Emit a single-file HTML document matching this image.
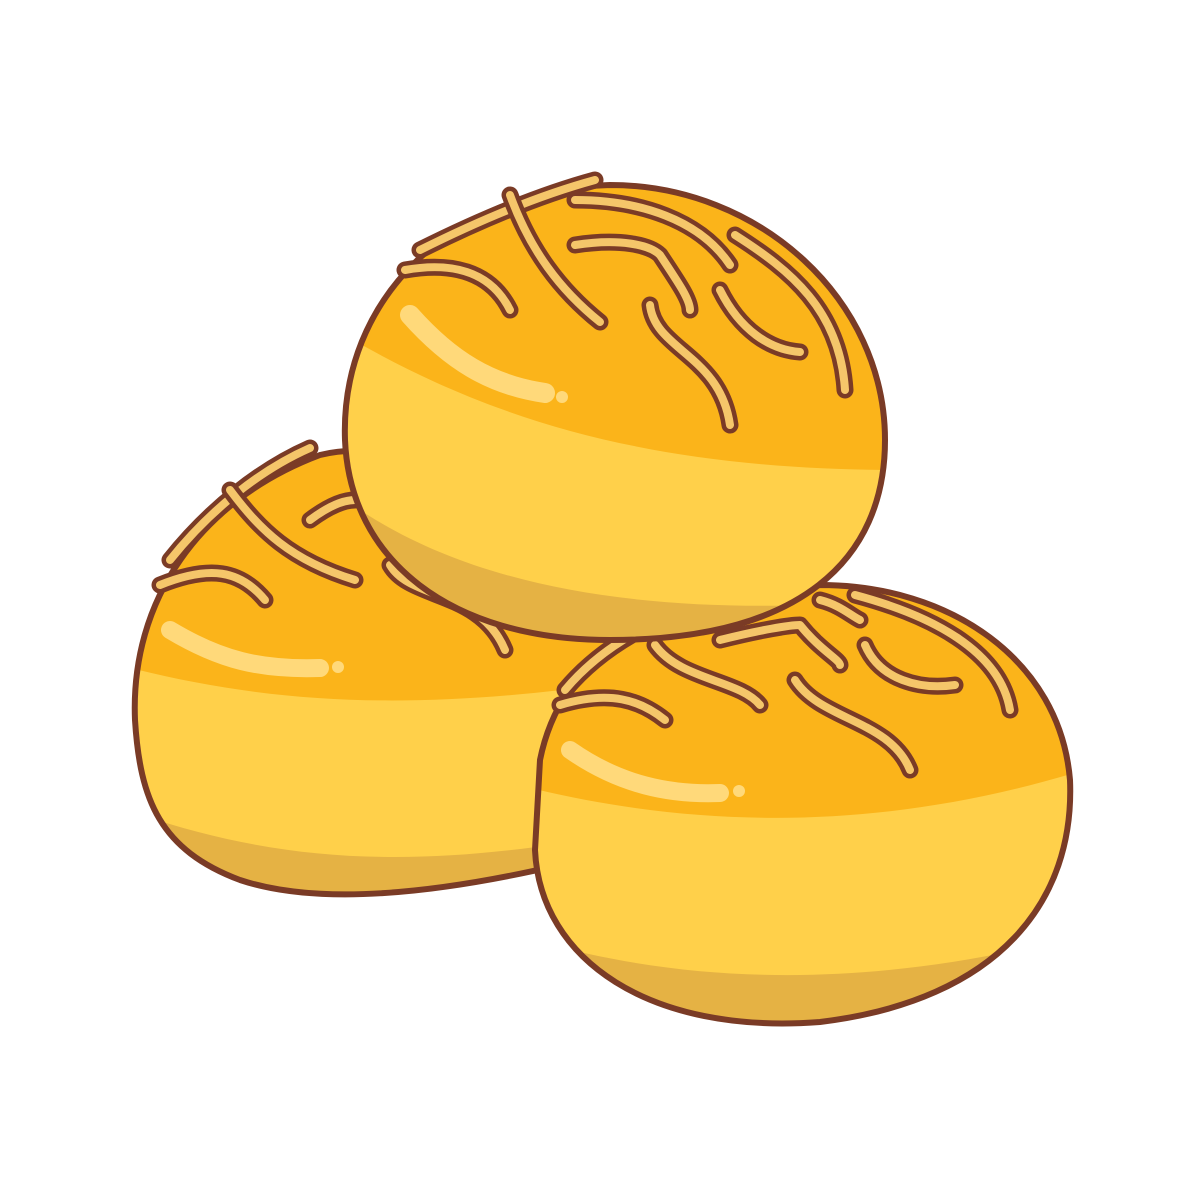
<!DOCTYPE html>
<html><head><meta charset="utf-8"><style>html,body{margin:0;padding:0;background:#fff}svg{display:block}</style></head>
<body>
<svg width="1200" height="1200" viewBox="0 0 1200 1200" xmlns="http://www.w3.org/2000/svg">
<defs>
<clipPath id="cl"><path d="M135,720 C130,600 200,500 320,455 C420,430 560,520 620,620 L620,850 C470,890 330,910 240,880 C160,850 140,800 135,720 Z"/></clipPath>
<clipPath id="cr"><path d="M540,760 C560,660 650,590 820,585 C950,585 1060,660 1070,780 C1075,900 1000,1000 820,1022 C650,1035 540,960 535,850 Z"/></clipPath>
<clipPath id="ct"><path d="M345,440 C340,300 450,190 610,185 C760,185 885,300 885,440 C885,560 800,640 610,640 C450,640 350,560 345,440 Z"/></clipPath>
<style>.o{fill:none;stroke:#7a3b26;stroke-width:17;stroke-linecap:round;stroke-linejoin:round}.i{fill:none;stroke:#f5c66a;stroke-width:8;stroke-linecap:round;stroke-linejoin:round}</style>
</defs>

<g>
<g clip-path="url(#cl)">
<rect x="100" y="400" width="540" height="550" fill="#fbb41a"/>
<path d="M100,660 C280,710 430,710 640,680 L640,950 L100,950 Z" fill="#ffd04a"/>
<path d="M100,800 C280,870 430,870 640,830 L640,950 L100,950 Z" fill="#e5b244"/>
</g>
<path d="M135,720 C130,600 200,500 320,455 C420,430 560,520 620,620 L620,850 C470,890 330,910 240,880 C160,850 140,800 135,720 Z" fill="none" stroke="#7a3b26" stroke-width="6"/>
<path d="M170,630 C220,660 260,670 320,668" fill="none" stroke="#ffd97a" stroke-width="18" stroke-linecap="round"/>
<circle cx="338" cy="667" r="6" fill="#ffd97a"/>
<g>
<path class="o" d="M170,560 C210,510 260,470 310,448"/><path class="i" d="M170,560 C210,510 260,470 310,448"/>
<path class="o" d="M160,585 C210,565 240,570 265,600"/><path class="i" d="M160,585 C210,565 240,570 265,600"/>
<path class="o" d="M230,490 C260,530 290,560 355,580"/><path class="i" d="M230,490 C260,530 290,560 355,580"/>
<path class="o" d="M310,520 C330,505 345,500 355,500"/><path class="i" d="M310,520 C330,505 345,500 355,500"/>
<path class="o" d="M390,565 C410,600 480,590 505,650"/><path class="i" d="M390,565 C410,600 480,590 505,650"/>
</g>
</g>

<g>
<g clip-path="url(#cr)">
<rect x="500" y="550" width="600" height="500" fill="#fbb41a"/>
<path d="M500,780 C700,835 900,830 1100,765 L1100,1050 L500,1050 Z" fill="#ffd04a"/>
<path d="M500,930 C700,995 900,985 1100,930 L1100,1050 L500,1050 Z" fill="#e5b244"/>
</g>
<path d="M540,760 C560,660 650,590 820,585 C950,585 1060,660 1070,780 C1075,900 1000,1000 820,1022 C650,1035 540,960 535,850 Z" fill="none" stroke="#7a3b26" stroke-width="6"/>
<path d="M570,750 C620,785 670,795 720,793" fill="none" stroke="#ffd97a" stroke-width="18" stroke-linecap="round"/>
<circle cx="739" cy="791" r="6" fill="#ffd97a"/>
<g>
<path class="o" d="M565,690 C590,660 620,640 650,625"/><path class="i" d="M565,690 C590,660 620,640 650,625"/>
<path class="o" d="M560,705 C610,690 640,700 665,720"/><path class="i" d="M560,705 C610,690 640,700 665,720"/>
<path class="o" d="M655,645 C680,680 740,680 760,705"/><path class="i" d="M655,645 C680,680 740,680 760,705"/>
<path class="o" d="M795,680 C820,720 890,720 910,770"/><path class="i" d="M795,680 C820,720 890,720 910,770"/>
<path class="o" d="M720,640 C760,630 790,625 800,625 C820,650 840,660 840,665"/><path class="i" d="M720,640 C760,630 790,625 800,625 C820,650 840,660 840,665"/>
<path class="o" d="M865,645 C880,680 920,690 955,685"/><path class="i" d="M865,645 C880,680 920,690 955,685"/>
<path class="o" d="M855,595 C930,615 1000,650 1010,710"/><path class="i" d="M855,595 C930,615 1000,650 1010,710"/>
<path class="o" d="M820,600 C840,605 850,615 860,620"/><path class="i" d="M820,600 C840,605 850,615 860,620"/>
</g>
</g>

<g>
<g clip-path="url(#ct)">
<rect x="300" y="150" width="620" height="520" fill="#fbb41a"/>
<path d="M320,320 C480,420 650,470 900,470 L900,680 L320,680 Z" fill="#ffd04a"/>
<path d="M320,480 C450,590 650,620 900,600 L900,680 L320,680 Z" fill="#e5b244"/>
</g>
<path d="M345,440 C340,300 450,190 610,185 C760,185 885,300 885,440 C885,560 800,640 610,640 C450,640 350,560 345,440 Z" fill="none" stroke="#7a3b26" stroke-width="6"/>
<path d="M410,315 C450,360 490,385 545,393" fill="none" stroke="#ffd97a" stroke-width="20" stroke-linecap="round"/>
<circle cx="562" cy="397" r="6" fill="#ffd97a"/>
<g>
<path class="o" d="M420,250 C480,220 540,195 595,180"/><path class="i" d="M420,250 C480,220 540,195 595,180"/>
<path class="o" d="M405,270 C450,262 490,270 510,310"/><path class="i" d="M405,270 C450,262 490,270 510,310"/>
<path class="o" d="M510,195 C530,250 560,290 600,322"/><path class="i" d="M510,195 C530,250 560,290 600,322"/>
<path class="o" d="M575,200 C640,200 700,220 730,265"/><path class="i" d="M575,200 C640,200 700,220 730,265"/>
<path class="o" d="M575,245 C620,238 650,245 660,255 C680,285 690,300 690,310"/><path class="i" d="M575,245 C620,238 650,245 660,255 C680,285 690,300 690,310"/>
<path class="o" d="M650,305 C655,350 720,355 730,425"/><path class="i" d="M650,305 C655,350 720,355 730,425"/>
<path class="o" d="M720,290 C740,330 770,350 800,352"/><path class="i" d="M720,290 C740,330 770,350 800,352"/>
<path class="o" d="M735,235 C790,270 840,310 845,390"/><path class="i" d="M735,235 C790,270 840,310 845,390"/>
</g>
</g>
</svg>
</body></html>
